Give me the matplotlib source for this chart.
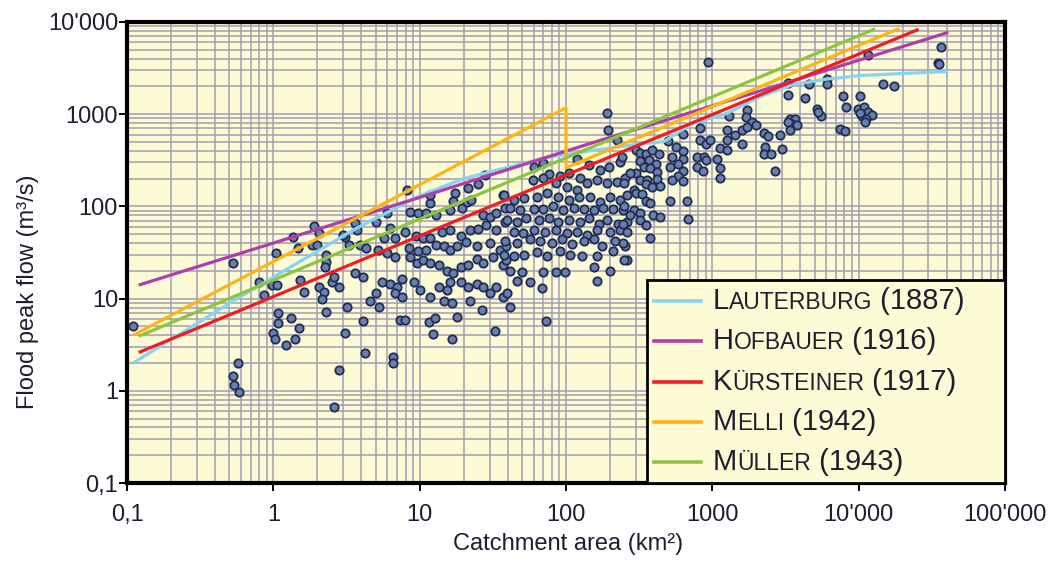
import numpy as np
import matplotlib.pyplot as plt
from matplotlib.ticker import LogLocator, NullFormatter, FixedLocator
from matplotlib.offsetbox import AnchoredOffsetbox, HPacker, VPacker, TextArea, DrawingArea
from matplotlib.lines import Line2D

plt.rcParams['font.family'] = ['Liberation Sans', 'DejaVu Sans']

# --- observed floods (catchment area km2, peak flow m3/s), read off the chart ---
# small catchments, left part
area_a = [0.11, 0.53, 0.57, 0.53, 0.54, 0.58, 1.04, 1.36, 1.48, 1.9, 2.05, 1.84, 1.99,
          2.3, 2.3, 2.25, 0.8, 0.98, 1.06, 0.86, 1.52, 1.62, 2.05, 2.2, 2.15, 2.5, 2.6,
          2.8, 3.2, 2.3, 1.07, 1.07, 1.32, 1.5, 1.0, 1.02, 1.22, 1.4, 3.1, 2.8, 2.6,
          3.6, 3.1, 3.3, 3.6, 4.2, 6.6, 6.6, 3.0, 3.7, 6.0]
peak_a = [5.0, 24, 2.0, 1.45, 1.16, 0.97, 31, 47, 35, 61, 51, 38, 38,
          30, 25, 22, 15, 14, 14, 11, 16, 11.8, 13.4, 11.8, 10, 15, 17,
          13.4, 8.1, 7.2, 7.0, 5.4, 6.2, 4.8, 4.2, 3.6, 3.1, 3.6, 4.2, 1.7, 0.67,
          19, 47, 38, 66, 2.6, 2.3, 2.0, 49, 55, 85]

# 4 - 40 km2
area_b = [8.2, 11.8, 11.8, 17.4, 21.5, 25, 28, 37,
          8.6, 9.8, 11, 13, 16, 19.5, 21, 22.5, 27, 30, 33, 38,
          5, 6.3, 5.7, 6.8, 7.9, 9.4, 10.5, 11.8, 14.2, 16, 19, 22, 25, 28.5, 33, 38,
          3.9, 4.3, 5.2, 6, 6.8, 8.4, 9.8, 11, 13, 14.6, 16, 18, 20.6, 24.5, 30, 35.5, 39,
          4.1, 5.5, 6.3, 7, 7.6, 8.6, 9.6, 10.5, 11.8, 13.5, 15.3, 17, 19, 21.5, 24.5, 27, 31.5, 37, 39,
          5, 4.6, 5.3, 6.8, 7.6, 9.2, 10.1, 11.8, 13.5, 15.3, 16, 19, 21.5, 24.5, 27, 30, 33, 37,
          4.1, 7.3, 7.9, 11.5, 12.8, 14.6, 16.5, 18, 22, 26.5, 32.5, 12.4, 16.5,
          17, 41.5]
peak_b = [151, 108, 133, 140, 157, 175, 218, 133,
          87, 84, 84, 80, 91, 95, 112, 117, 80, 77, 84, 95,
          68, 58, 45, 45, 53, 48, 45, 45, 53, 55, 48, 55, 57, 63, 55, 68,
          38, 35, 34, 31, 28, 35, 32.5, 34, 38, 37, 34, 37, 41, 37, 40, 34, 37,
          17, 15, 14.5, 13.5, 16.5, 28, 24, 26, 24, 23, 20, 19, 22, 23, 27, 24, 28, 23, 26,
          11.5, 9.5, 8.2, 11.5, 10.5, 15, 12.4, 10.5, 13.3, 12.4, 15, 15, 13.3, 14.5, 13.3, 11.5, 13.3, 10.5,
          5.7, 5.8, 5.8, 5.6, 6.1, 9.5, 9, 6.3, 9.5, 7.5, 4.4, 4.1, 3.6,
          114, 8.1]

# 40 - 250 km2
area_c = [190, 193, 222, 119, 143, 171, 197, 234,
          76, 91, 104, 125,
          59, 70, 85, 101, 119, 140, 162, 191, 222, 254,
          37.5, 44, 52, 63.5, 74, 88, 104, 122, 146, 171, 200, 234,
          41.5, 48.6, 60, 70, 82, 96, 113, 132, 155, 180, 210, 247,
          39.5, 46, 53.5, 65, 76, 88, 104, 125, 143, 167, 191, 228, 260,
          44, 51, 60, 72, 85, 101, 119, 140, 162, 200, 234,
          38.5, 46, 57, 66.5, 80, 94, 110, 132, 155, 176, 217, 254,
          37.5, 44, 52, 63.5, 74, 91, 107, 129, 162, 210, 260,
          41.5, 50, 70, 85, 99, 155, 200,
          46, 57, 68, 162, 39.5,
          73, 60, 70]
peak_c = [1040, 675, 520, 330, 280, 248, 265, 300,
          222, 213, 230, 205,
          193, 205, 178, 163, 151, 178, 193, 178, 185, 205,
          132, 117, 122, 127, 138, 127, 117, 127, 127, 112, 127, 117,
          97, 91, 94, 94, 101, 91, 97, 94, 91, 97, 94, 91,
          71, 68, 74, 71, 74, 68, 71, 68, 74, 65, 71, 65, 68,
          53, 51, 55, 53, 55, 51, 53, 49, 55, 53, 55,
          42, 40.5, 44, 42, 40.5, 44, 39, 42, 44, 37, 42, 37,
          30, 29, 30, 32, 29, 33, 30, 29, 29, 33, 26,
          20, 19.5, 19.5, 19.5, 19.5, 22, 20,
          15.5, 15, 13, 15.5, 11.5,
          5.7, 267, 295]

# 250 - 2000 km2
area_d = [930, 1720, 1690, 1860, 2000, 1290, 826, 1260, 1420, 1600, 1720, 1600, 1260,
          630, 826, 900, 966, 1130, 1260, 1080, 1130, 1130, 780, 880, 905, 780, 860,
          500, 560, 630, 530, 630, 580, 515, 630, 580, 530, 630,
          240, 300, 321, 350, 385, 430, 370, 415, 321, 340, 376, 420, 300, 321, 360, 420, 274, 350, 385, 440,
          250, 290, 260, 300, 330, 350, 376, 250, 290, 321, 274, 321, 350, 245, 260, 245, 250,
          395, 440, 376, 515, 670, 685]
peak_d = [3700, 1110, 930, 820, 760, 960, 700, 675, 590, 675, 730, 480, 525,
          615, 525, 470, 525, 425, 410, 330, 258, 205, 345, 345, 318, 270, 240,
          505, 440, 395, 345, 330, 285, 270, 240, 215, 193, 186,
          345, 410, 380, 365, 410, 365, 318, 290, 310, 265, 258, 235, 228, 193, 193, 200, 228, 176, 163, 168,
          180, 151, 132, 140, 137, 115, 110, 100, 91, 85, 80, 71, 63, 65, 53, 40, 26,
          81, 77, 45, 113, 113, 72]

# large catchments
area_e = [36500, 35000, 35500, 11500, 14700, 17500, 6100, 6100, 4550, 3300, 3300, 4300,
          7800, 10240, 8200, 5200, 5500, 5300, 9900, 10800, 11600, 12400, 10500, 11300,
          11000, 10200, 3400, 3700, 3500, 3800, 3400, 3300, 7500, 8100, 2250, 2400, 2900,
          2300, 3000, 2700, 2250, 2500]
peak_e = [5300, 3600, 3500, 4400, 2100, 2000, 2400, 2100, 2100, 2150, 1600, 1480,
          1560, 1560, 1190, 1130, 950, 1050, 1130, 1180, 1050, 970, 950, 880,
          820, 1020, 880, 890, 790, 760, 675, 820, 685, 650, 620, 585, 590,
          445, 420, 240, 370, 370]

laut_area = [0.11, 0.565, 3.7, 10, 20, 74, 146, 337, 461, 740, 1260, 2120, 3600, 6100, 10240, 22600, 41000]
laut_peak = [2.0, 10, 58, 130, 200, 340, 400, 480, 500, 800, 1020, 1550, 2100, 2400, 2620, 2780, 2900]
hof_area = [0.12, 1, 10, 146, 1000, 41000]
hof_peak = [14, 40, 125, 480, 1230, 7700]
kur_area = [0.12, 1, 146, 25700]
kur_peak = [2.6, 10.5, 280, 8300]
mel_area = [0.11, 100, 100, 19000]
mel_peak = [4.0, 1170, 262, 8500]
mul_area = [0.12, 12970]
mul_peak = [3.9, 8400]

names = ['Lauterburg', 'Hofbauer', 'Kürsteiner', 'Melli', 'Müller']
years = [1887, 1916, 1917, 1942, 1943]
colors = ['#86d3f2', '#b03da8', '#ee1d25', '#fdb515', '#8cc540']

x_ticks = [0.1, 1, 10, 100, 1000, 10000, 100000]
x_labels = ['0,1', '1', '10', '100', '1000', "10'000", "100'000"]
y_ticks = [0.1, 1, 10, 100, 1000, 10000]
y_labels = ['0,1', '1', '10', '100', '1000', "10'000"]

bg = '#fdfbd6'
grid_col = '#a39db2'
txt_col = '#1e1e30'

fig = plt.figure(figsize=(10.59, 5.61), dpi=100)
ax = fig.add_axes([0.12, 0.139, 0.829, 0.822])
ax.set_facecolor(bg)
ax.set_xscale('log')
ax.set_yscale('log')
ax.set_xlim(0.1, 100000)
ax.set_ylim(0.1, 10000)

for axis in (ax.xaxis, ax.yaxis):
    axis.set_minor_locator(LogLocator(base=10, subs=np.arange(2, 10), numticks=100))
    axis.set_minor_formatter(NullFormatter())
ax.xaxis.set_major_locator(FixedLocator(x_ticks))
ax.yaxis.set_major_locator(FixedLocator(y_ticks))
ax.set_xticklabels(x_labels)
ax.set_yticklabels(y_labels)
ax.grid(True, which='both', color=grid_col, linewidth=1.1, zorder=0)
ax.set_axisbelow(True)

ax.tick_params(which='major', direction='out', length=6, width=1.4,
               labelsize=17, labelcolor=txt_col, color='black')
ax.tick_params(axis='x', which='major', pad=9)
ax.tick_params(axis='y', which='major', pad=0.5)
ax.tick_params(which='minor', length=0)
for sp in ax.spines.values():
    sp.set_linewidth(3)
    sp.set_color('black')

# points
all_area = area_a + area_b + area_c + area_d + area_e
all_peak = peak_a + peak_b + peak_c + peak_d + peak_e
ax.scatter(all_area, all_peak, s=36, facecolor='#6a7fab', edgecolor='#1f2d52',
           linewidth=1.3, zorder=3)

# curves
curves = [(laut_area, laut_peak), (hof_area, hof_peak), (kur_area, kur_peak),
          (mel_area, mel_peak), (mul_area, mul_peak)]
for (xa, ya), c in zip(curves, colors):
    ax.plot(xa, ya, color=c, linewidth=2.3, zorder=4, solid_capstyle='butt')

ax.set_xlabel('Catchment area (km²)', fontsize=17, color=txt_col)
ax.set_ylabel('Flood peak flow (m³/s)', fontsize=17, color=txt_col)
ax.xaxis.set_label_coords(0.502, -0.108)
ax.yaxis.set_label_coords(-0.1, 0.414)

# legend with small caps labels
rows = []
for name, year, c in zip(names, years, colors):
    da = DrawingArea(34, 14, 0, 0)
    da.add_artist(Line2D([0, 34], [7, 7], color=c, linewidth=2.6))
    t1 = TextArea(name[0], textprops=dict(size=21, color=txt_col))
    t2 = TextArea(name[1:].upper(), textprops=dict(size=16.5, color=txt_col))
    t3 = TextArea(f' ({year})', textprops=dict(size=21, color=txt_col))
    label = HPacker(children=[t1, t2, t3], align='baseline', pad=0, sep=0)
    rows.append(HPacker(children=[da, label], align='center', pad=0, sep=8))
box = VPacker(children=rows, align='left', pad=0, sep=8.8)
box = HPacker(children=[box, DrawingArea(24, 1, 0, 0)], align='center', pad=0, sep=0)
leg = AnchoredOffsetbox(loc='lower right', child=box, pad=0.5, borderpad=0,
                        frameon=True, prop=dict(size=10),
                        bbox_to_anchor=(1, 0), bbox_transform=ax.transAxes)
leg.patch.set_facecolor(bg)
leg.patch.set_edgecolor('black')
leg.patch.set_linewidth(2)
leg.set_zorder(6)
ax.add_artist(leg)

fig.savefig('out.png', dpi=100, facecolor='white')
